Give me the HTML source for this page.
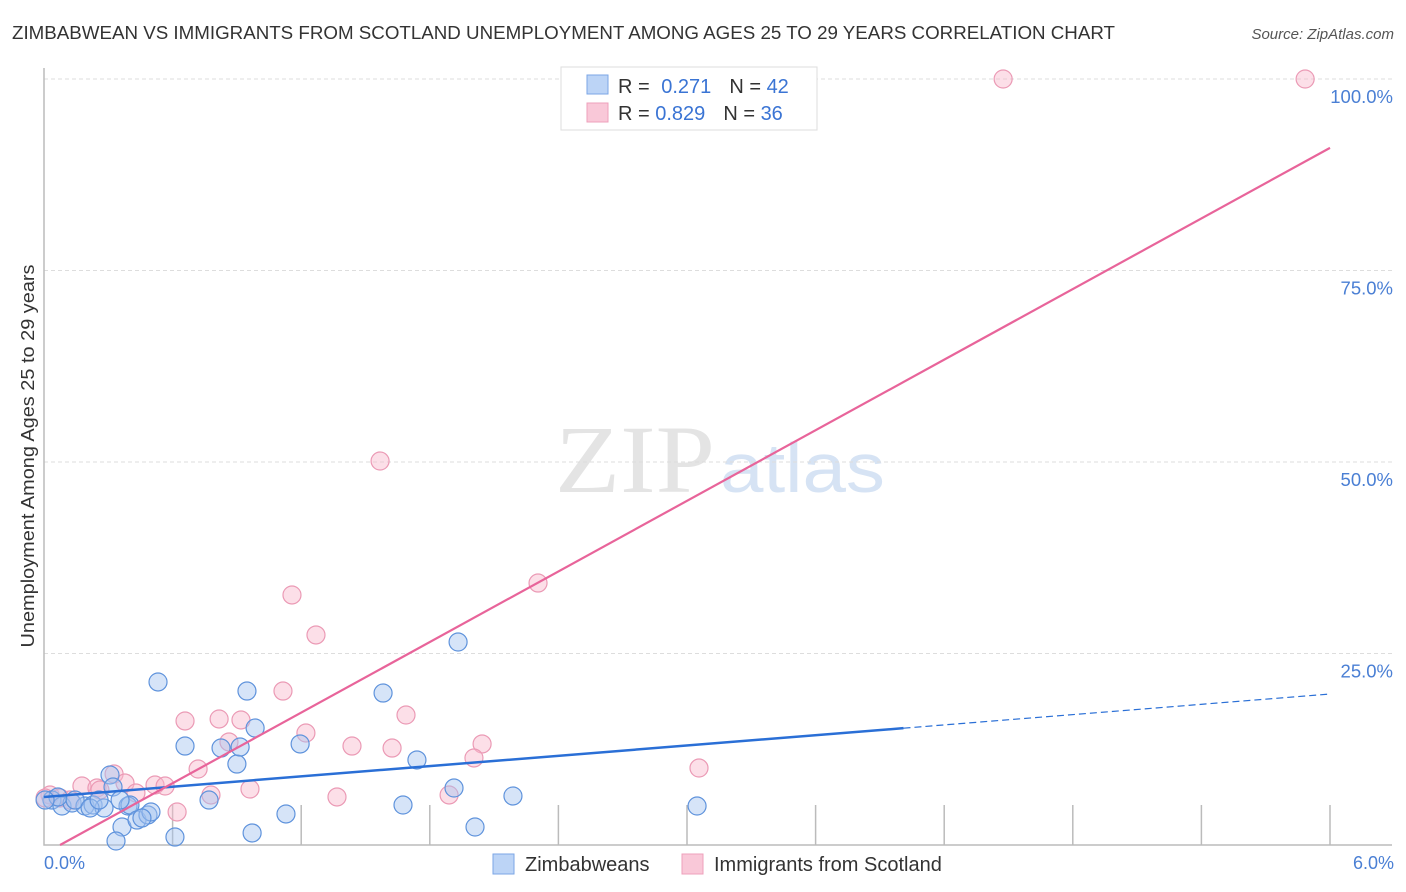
<!DOCTYPE html>
<html><head><meta charset="utf-8"><style>
body{margin:0;background:#fff;font-family:"Liberation Sans",sans-serif;}
svg{display:block}
</style></head><body>
<svg id="chart" width="1406" height="892" xmlns="http://www.w3.org/2000/svg">
<text x="12" y="39" font-size="18" fill="#333" textLength="1103" lengthAdjust="spacingAndGlyphs">ZIMBABWEAN VS IMMIGRANTS FROM SCOTLAND UNEMPLOYMENT AMONG AGES 25 TO 29 YEARS CORRELATION CHART</text>
<text x="1394" y="39" font-size="15" fill="#555" font-style="italic" text-anchor="end">Source: ZipAtlas.com</text>
<text x="555" y="492" font-size="96" font-family="Liberation Serif,serif" fill="#e4e4e4" textLength="160" lengthAdjust="spacingAndGlyphs">ZIP</text>
<text x="720" y="492" font-size="70" fill="#d6e3f4" textLength="165" lengthAdjust="spacingAndGlyphs">atlas</text>
<g id="grid"></g>
<g id="marks"></g>
<text transform="translate(34,456) rotate(-90)" font-size="18" fill="#333" text-anchor="middle" textLength="383" lengthAdjust="spacingAndGlyphs">Unemployment Among Ages 25 to 29 years</text>
<text x="44" y="869" font-size="18" fill="#4a7fd4">0.0%</text>
<text x="1394" y="869" font-size="18" fill="#4a7fd4" text-anchor="end">6.0%</text>
<g>
<rect x="561" y="67" width="256" height="63" fill="#fff" stroke="#ddd"/>
<rect x="587" y="75" width="21" height="19" fill="#bcd4f6" stroke="#7ba6e6"/>
<rect x="587" y="103" width="21" height="19" fill="#f9c8d8" stroke="#eea0bb"/>
<text x="618" y="93" font-size="20" fill="#333">R = <tspan fill="#3a74d4" dx="6">0.271</tspan><tspan dx="18">N = </tspan><tspan fill="#3a74d4">42</tspan></text>
<text x="618" y="120" font-size="20" fill="#333">R = <tspan fill="#3a74d4">0.829</tspan><tspan dx="18">N = </tspan><tspan fill="#3a74d4">36</tspan></text>
</g>
<g>
<rect x="493" y="854" width="21" height="20" fill="#bcd4f6" stroke="#7ba6e6"/>
<text x="525" y="871" font-size="20" fill="#333">Zimbabweans</text>
<rect x="682" y="854" width="21" height="20" fill="#f9c8d8" stroke="#eea0bb"/>
<text x="714" y="871" font-size="20" fill="#333">Immigrants from Scotland</text>
</g>
</svg>
<script>
const blueX=[0.037,0.084,0.131,0.191,0.229,0.28,0.308,0.322,0.364,0.392,0.401,0.434,0.485,0.499,0.532,0.611,0.658,0.77,0.826,0.9,0.915,0.947,0.971,0.985,1.129,1.195,1.582,1.675,1.74,1.913,1.932,2.011,2.188,3.047,0.336,0.065,0.005,0.145,0.215,0.257,0.457,0.355];
const blueY=[5.87,5.09,5.48,5.09,5.22,4.83,9.14,7.57,2.35,5.09,5.22,3.26,3.92,4.31,21.28,1.04,12.92,5.87,12.66,10.57,12.79,20.1,1.57,15.27,4.05,13.19,19.84,5.22,11.1,7.44,26.5,2.35,6.4,5.09,0.52,6.27,5.87,5.87,4.83,5.87,3.52,5.87];
const pinkX=[4.475,5.884,1.568,1.157,1.269,2.305,1.115,0.658,0.817,0.919,1.689,1.222,0.863,1.437,1.624,2.044,2.006,3.056,0.719,0.327,0.518,0.565,0.378,0.177,0.247,0.961,0.779,0.429,1.367,1.89,0.621,0.028,0.075,0.121,0.261,0.005];
const pinkY=[100,100,50.13,32.64,27.42,34.2,20.1,16.19,16.45,16.32,16.97,14.62,13.45,12.92,12.66,13.19,11.36,10.05,9.92,9.27,7.83,7.7,8.09,7.7,7.44,7.31,6.53,6.79,6.27,6.53,4.31,6.53,6.14,5.87,7.18,6.14];
const yTicks=[25,50,75,100];
const yTickLabels=["25.0%","50.0%","75.0%","100.0%"];
const xTicks=[0.6,1.2,1.8,2.4,3.0,3.6,4.2,4.8,5.4,6.0];
const blueFit=[6.27,2.24];const blueSolidEnd=4.01;
const pinkFit=[-1.15,15.36];
const NS="http://www.w3.org/2000/svg";
const X=v=>44+v/6*1286, Y=v=>845-v/100*766;
function mk(t,a,p){const e=document.createElementNS(NS,t);for(const k in a)e.setAttribute(k,a[k]);p.appendChild(e);return e;}
const grid=document.getElementById('grid'),marks=document.getElementById('marks');
yTicks.forEach((t,i)=>{
 const l=mk('line',{x1:44,x2:1392,y1:Y(t),y2:Y(t),stroke:'#ddd','stroke-dasharray':'4,3'},grid);
 
 
 const tx=mk('text',{x:1393,y:Y(t)+24,'font-size':18.5,fill:'#4a7fd4','text-anchor':'end'},grid);
 tx.textContent=yTickLabels[i];
 
 
});
const ax=mk('path',{d:'M44,68 V845 H1392',fill:'none',stroke:'#bbb','stroke-width':1.5},grid);


xTicks.forEach(t=>{
 const l=mk('line',{x1:X(t),x2:X(t),y1:805,y2:845,stroke:'#bbb','stroke-width':1.5},grid);
 
 
});
function pts(xs,ys,fill,stroke,name){xs.forEach((x,i)=>{
 const c=mk('circle',{cx:X(x),cy:Y(ys[i]),r:9,fill:fill,stroke:stroke,'stroke-width':1.2},marks);
 
 
});}
pts(pinkX,pinkY,'rgba(248,184,204,0.45)','#eb9ab5','scotland-point');
pts(blueX,blueY,'rgba(164,196,240,0.45)','#5f93dc','zimbabwean-point');
const f=(p,x)=>p[0]+p[1]*x;
let l=mk('line',{x1:X(0),y1:Y(f(blueFit,0)),x2:X(blueSolidEnd),y2:Y(f(blueFit,blueSolidEnd)),stroke:'#2a6fd6','stroke-width':2.5},marks);


l=mk('line',{x1:X(blueSolidEnd),y1:Y(f(blueFit,blueSolidEnd)),x2:X(6),y2:Y(f(blueFit,6)),stroke:'#2a6fd6','stroke-width':1.2,'stroke-dasharray':'7,4'},marks);


const px0=-pinkFit[0]/pinkFit[1];
l=mk('line',{x1:X(px0),y1:Y(0),x2:X(6),y2:Y(f(pinkFit,6)),stroke:'#e8649a','stroke-width':2.2},marks);


</script>
</body></html>
